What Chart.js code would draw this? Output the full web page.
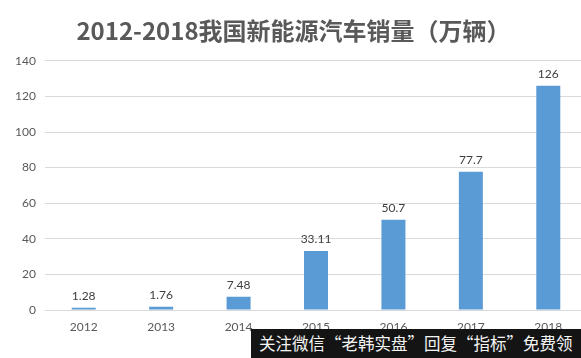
<!DOCTYPE html>
<html>
<head>
<meta charset="utf-8">
<script src="https://cdn.jsdelivr.net/npm/chart.js@4"></script>
<style>
  html, body { margin: 0; padding: 0; background: #fff; overflow: hidden; width: 581px; height: 358px; }
  #wrap { position: relative; width: 588px; height: 358px; }
  #watermark {
    position: absolute; left: 251px; top: 329px; width: 330px; height: 29px;
    background: #141414; color: #f4f4f4;
    font-family: "Noto Sans CJK SC", sans-serif; font-size: 16.5px; line-height: 29px;
    padding-left: 8px; box-sizing: border-box; white-space: nowrap;
  }
</style>
</head>
<body>
<div id="wrap">
  <canvas id="c" width="588" height="358"></canvas>
  <div id="watermark">关注微信“老韩实盘”回复“指标”免费领</div>
</div>
<script>
const titleText = "2012-2018我国新能源汽车销量（万辆）";
const categories = ["2012", "2013", "2014", "2015", "2016", "2017", "2018"];
const sales = [1.28, 1.76, 7.48, 33.11, 50.7, 77.7, 126];
const valueLabels = ["1.28", "1.76", "7.48", "33.11", "50.7", "77.7", "126"];

const labelPlugin = {
  id: 'valueLabels',
  afterDatasetsDraw(chart) {
    const ctx = chart.ctx;
    const meta = chart.getDatasetMeta(0);
    ctx.save();
    ctx.font = '12px Lato, "Open Sans", sans-serif';
    ctx.fillStyle = '#404040';
    ctx.textAlign = 'center';
    ctx.textBaseline = 'bottom';
    meta.data.forEach((bar, i) => {
      ctx.fillText(valueLabels[i], bar.x, bar.y - 6);
    });
    ctx.restore();
  }
};

new Chart(document.getElementById('c'), {
  type: 'bar',
  data: {
    labels: categories,
    datasets: [{
      data: sales,
      backgroundColor: '#5B9BD5',
      borderWidth: 0,
      categoryPercentage: 1,
      barPercentage: 0.31
    }]
  },
  options: {
    responsive: false,
    animation: false,
    devicePixelRatio: 1,
    layout: { padding: { left: 0, right: 1, top: 0, bottom: 0 } },
    plugins: {
      legend: { display: false },
      tooltip: { enabled: false },
      title: {
        display: true,
        text: titleText,
        color: '#595959',
        font: { family: '"Noto Sans CJK SC", sans-serif', size: 24, weight: 'bold', lineHeight: 1.2 },
        padding: { top: 16, bottom: 16 }
      }
    },
    scales: {
      x: {
        grid: { display: false, drawTicks: false },
        border: { display: true, color: '#d9d9d9' },
        ticks: { color: '#595959', font: { family: 'Lato, "Open Sans", sans-serif', size: 12 }, padding: 10 },
        afterFit(scale) { scale.height = 48; }
      },
      y: {
        min: 0, max: 140,
        ticks: { stepSize: 20, color: '#595959', font: { family: 'Lato, "Open Sans", sans-serif', size: 12 }, padding: 9 },
        grid: { color: '#d9d9d9', drawTicks: false },
        border: { display: false },
        afterFit(scale) { scale.width = 45; }
      }
    }
  },
  plugins: [labelPlugin]
});
</script>
</body>
</html>
